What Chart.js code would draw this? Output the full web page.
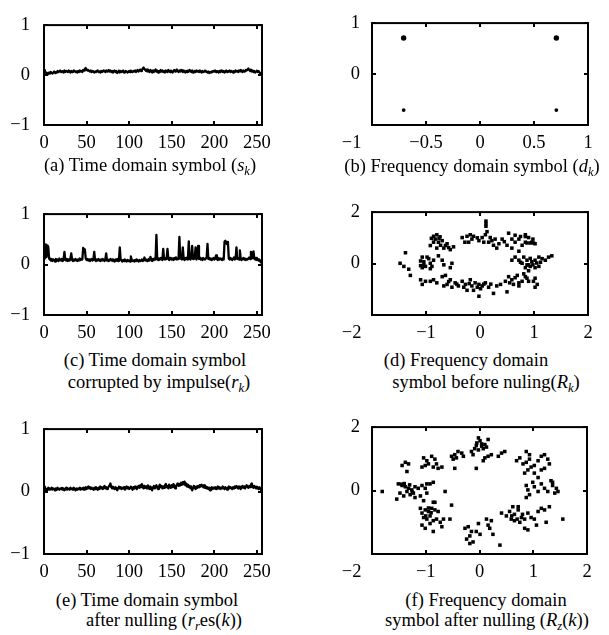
<!DOCTYPE html>
<html>
<head>
<meta charset="utf-8">
<script src="https://cdn.jsdelivr.net/npm/chart.js@4.4.1/dist/chart.umd.min.js"></script>
<style>
  html, body { margin: 0; padding: 0; background: #fff; }
  #wrap { position: relative; width: 609px; height: 635px; overflow: hidden; background: #fff; }
  canvas { position: absolute; }
  .cap { position: absolute; white-space: nowrap; font-family: "Liberation Serif", "Times New Roman", serif;
         font-size: 18.5px; line-height: 24px; color: #000; transform: translateX(-50%); }
  .cap sub { font-size: 0.68em; vertical-align: -0.3em; line-height: 0; }
</style>
</head>
<body>
<div id="wrap">
  <canvas id="ca" width="300" height="155" style="left:0;top:0"></canvas>
  <canvas id="cb" width="309" height="155" style="left:300px;top:0"></canvas>
  <canvas id="cc" width="300" height="156" style="left:0;top:189px"></canvas>
  <canvas id="cd" width="309" height="156" style="left:300px;top:189px"></canvas>
  <canvas id="ce" width="300" height="180" style="left:0;top:404px"></canvas>
  <canvas id="cf" width="309" height="180" style="left:300px;top:404px"></canvas>

  <div class="cap" style="left:150px;top:153px">(a) Time domain symbol (<i>s</i><sub><i>k</i></sub>)</div>
  <div class="cap" style="left:472px;top:154px">(b) Frequency domain symbol (<i>d</i><sub><i>k</i></sub>)</div>
  <div class="cap" style="left:155px;top:348px">(c) Time domain symbol</div>
  <div class="cap" style="left:159px;top:370px">corrupted by impulse(<i>r</i><sub><i>k</i></sub>)</div>
  <div class="cap" style="left:466px;top:348px">(d) Frequency domain</div>
  <div class="cap" style="left:486px;top:370px">symbol before nuling(<i>R</i><sub><i>k</i></sub>)</div>
  <div class="cap" style="left:147px;top:588px">(e) Time domain symbol</div>
  <div class="cap" style="left:164px;top:608px">after nulling (<i>r</i><sub><i>r</i></sub>es(<i>k</i>))</div>
  <div class="cap" style="left:486px;top:588px">(f) Frequency domain</div>
  <div class="cap" style="left:487px;top:608px">symbol after nulling (<i>R</i><sub><i>z</i></sub>(<i>k</i>))</div>
</div>
<script>
// ---------------- DATA ----------------
const xTicksTime = [0, 50, 100, 150, 200, 250];
const yTicksUnit = [-1, 0, 1];
const xTicksB = [-1, -0.5, 0, 0.5, 1];
const xTicksDF = [-2, -1, 0, 1, 2];
const yTicksDF = [-2, 0, 2];

// (a) time domain symbol s_k, k = 0..256
const sK = [
 .10,.08,.05,.03,.04,.02,.05,.03,.06,.04,.03,.05,.07,.04,.06,.05,.08,.06,.07,.09,
 .06,.08,.07,.05,.09,.06,.08,.07,.06,.09,.07,.05,.08,.06,.07,.09,.08,.06,.07,.05,
 .08,.06,.09,.07,.08,.06,.10,.09,.12,.14,.11,.09,.10,.08,.07,.09,.06,.08,.07,.05,
 .07,.06,.08,.09,.06,.07,.05,.08,.06,.07,.09,.08,.06,.09,.07,.08,.10,.07,.09,.06,
 .08,.05,.07,.09,.06,.08,.04,.07,.09,.05,.08,.06,.07,.09,.05,.06,.08,.07,.05,.06,
 .08,.06,.09,.07,.06,.08,.07,.09,.06,.08,.10,.07,.09,.11,.08,.10,.13,.15,.12,.10,
 .08,.11,.07,.09,.06,.10,.08,.05,.09,.06,.08,.11,.07,.09,.05,.08,.06,.10,.07,.09,
 .06,.08,.05,.09,.07,.06,.10,.08,.06,.09,.07,.05,.08,.10,.07,.09,.11,.08,.06,.09,
 .07,.10,.08,.06,.09,.07,.05,.08,.06,.09,.07,.10,.08,.06,.09,.05,.07,.08,.06,.09,
 .07,.08,.06,.09,.07,.05,.08,.06,.07,.09,.08,.06,.05,.07,.04,.06,.05,.07,.06,.08,
 .07,.09,.06,.08,.07,.05,.08,.06,.09,.07,.06,.08,.05,.07,.09,.06,.08,.07,.09,.06,
 .08,.07,.05,.08,.06,.09,.07,.08,.06,.09,.07,.10,.08,.06,.09,.07,.08,.10,.09,.11,
 .13,.10,.08,.11,.07,.09,.06,.08,.05,.07,.09,.06,.08,.05,.04,.03,.04
];

// (c) time domain symbol corrupted by impulse r_k
const rK = [
 .38,.12,.40,.15,.38,.35,.12,.10,.08,.11,.07,.10,.09,.06,.11,.08,.10,.07,.12,.09,
 .08,.11,.07,.10,.25,.09,.08,.11,.07,.10,.08,.12,.22,.09,.07,.10,.08,.11,.09,.07,
 .10,.08,.12,.09,.11,.10,.33,.28,.30,.12,.09,.11,.08,.10,.07,.09,.11,.08,.10,.25,
 .09,.07,.10,.08,.11,.09,.07,.10,.08,.11,.09,.07,.10,.22,.08,.10,.07,.09,.11,.08,
 .10,.07,.09,.06,.10,.08,.11,.07,.09,.34,.10,.08,.06,.09,.07,.10,.08,.06,.09,.07,
 .08,.06,.16,.09,.07,.08,.06,.09,.07,.10,.08,.06,.09,.07,.08,.10,.07,.09,.14,.08,
 .10,.07,.09,.11,.08,.15,.10,.07,.11,.09,.12,.10,.59,.11,.09,.12,.10,.13,.11,.09,
 .31,.12,.10,.13,.11,.31,.12,.09,.13,.11,.10,.12,.09,.13,.11,.14,.10,.12,.11,.55,
 .12,.14,.10,.34,.12,.09,.13,.11,.14,.10,.46,.12,.10,.13,.37,.11,.14,.12,.34,.10,
 .13,.37,.11,.14,.10,.12,.09,.13,.11,.10,.12,.14,.41,.11,.13,.10,.12,.09,.11,.13,
 .10,.12,.18,.11,.09,.13,.10,.12,.11,.09,.12,.10,.45,.47,.44,.40,.45,.12,.10,.13,
 .11,.09,.12,.14,.10,.12,.34,.11,.13,.10,.28,.12,.09,.11,.13,.10,.12,.09,.11,.10,
 .12,.14,.11,.25,.24,.13,.26,.12,.10,.13,.09,.11,.08,.10,.06,.04,.03
];

// (e) time domain symbol after nulling r_res(k)
const rResK = [
 .08,.02,.05,.00,.04,.06,.03,.05,.04,.06,.03,.05,.04,.02,.05,.03,.06,.04,.03,.05,
 .04,.06,.03,.05,.02,.04,.06,.03,.05,.04,.03,.06,.04,.05,.03,.06,.04,.02,.05,.03,
 .05,.04,.06,.03,.05,.04,.06,.03,.05,.07,.04,.06,.08,.05,.07,.04,.06,.05,.03,.06,
 .04,.07,.05,.03,.06,.04,.08,.05,.07,.04,.06,.09,.05,.07,.04,.06,.08,.10,.13,.07,
 .05,.08,.06,.04,.07,.05,.02,.06,.08,.05,.07,.04,.06,.05,.07,.03,.06,.08,.05,.07,
 .04,.06,.08,.05,.03,.07,.05,.08,.06,.04,.07,.09,.06,.10,.07,.12,.08,.05,.09,.06,
 .08,.05,.10,.07,.04,.08,.06,.02,.07,.09,.05,.08,.10,.06,.04,.08,.11,.07,.09,.05,
 .08,.06,.10,.12,.07,.09,.05,.11,.08,.06,.10,.07,.12,.09,.05,.08,.11,.13,.09,.12,
 .10,.14,.11,.15,.12,.16,.10,.13,.08,.11,.07,.09,.05,.08,.02,.06,.09,.07,.04,.08,
 .06,.09,.07,.10,.08,.11,.09,.07,.10,.06,.08,.05,.07,.04,.06,.02,.05,.07,.04,.06,
 .05,.07,.04,.06,.08,.05,.07,.04,.06,.05,.08,.06,.04,.07,.05,.03,.06,.08,.05,.07,
 .06,.04,.07,.05,.08,.06,.09,.07,.05,.08,.06,.04,.07,.09,.06,.08,.05,.07,.10,.08,
 .06,.09,.07,.11,.13,.08,.06,.09,.07,.05,.08,.06,.04,.07,.05,.02,.01
];

// (b) frequency domain symbol d_k (QPSK constellation)
const bTopX = [-0.707, 0.707];
const bTopY = [0.707, 0.707];
const bBotX = [-0.707, 0.707];
const bBotY = [-0.707, -0.707];

// (d) frequency domain symbol before nulling R_k
const dX = [
 0.11,0.11,0.11,-0.86,-0.80,-0.83,-0.77,-0.70,-0.73,-0.67,-0.86,-0.80,-0.61,-0.55,-0.49,-0.33,-0.24,-0.18,-0.15,-0.28,
 -0.21,-0.12,-0.02,0.04,0.10,0.13,0.07,0.16,0.19,0.22,0.25,0.31,0.35,0.41,0.53,0.59,0.65,0.72,0.78,0.84,
 0.90,0.96,1.02,0.50,0.59,0.72,0.84,0.84,0.87,0.93,0.99,
 -0.90,-0.76,-0.64,-0.58,-0.92,-0.74,-0.05,0.28,0.45,0.65,0.75,0.98,
 0.81,0.87,0.90,0.96,1.02,1.09,1.15,1.21,1.27,1.33,0.84,0.90,0.93,1.02,1.09,0.78,0.72,0.59,0.65,0.81,
 0.87,0.90,0.72,1.02,1.06,0.75,0.93,1.05,0.98,1.12,0.87,
 -1.38,-1.48,-1.41,-1.32,-1.29,-1.07,-1.04,-1.01,-1.07,-0.95,-0.92,-0.89,-0.86,-0.77,-0.70,-0.67,-0.55,-0.52,
 -1.10,-1.04,-0.98,-1.10,-0.92,
 -1.10,-1.07,-1.01,-0.92,-0.86,-0.80,-0.70,-0.64,-0.67,-0.61,-0.55,-0.52,-0.46,-0.40,-0.33,-0.27,-0.24,-0.18,-0.15,-0.12,
 -0.09,-0.02,0.01,0.04,-0.02,0.10,0.16,0.25,0.31,0.38,0.47,0.50,0.53,0.59,0.62,0.69,0.72,0.78,0.84,0.99,1.02,
 -0.58,-0.43,-0.30,-0.05,0.07,0.20,-0.20,0.55,0.65
];
const dY = [
 1.65,1.55,1.45,1.06,1.12,0.95,0.83,0.89,0.71,0.60,0.83,0.60,0.77,0.54,0.65,1.01,1.06,1.12,0.95,0.83,
 0.83,1.06,0.89,1.01,1.12,1.24,0.83,0.83,1.01,0.89,0.71,0.60,0.77,0.95,1.18,0.95,0.83,0.95,0.71,1.12,
 1.01,0.83,0.77,0.71,0.60,0.48,0.83,1.05,0.80,0.80,0.80,
 0.98,0.98,0.70,0.62,0.70,1.04,1.00,0.95,0.85,1.10,1.05,0.95,
 0.25,0.13,-0.05,0.07,0.13,0.25,0.19,0.13,0.25,0.30,-0.16,-0.28,-0.11,-0.16,-0.11,0.01,0.13,0.13,0.25,-0.40,
 -0.57,-0.69,-0.75,-0.57,-0.81,0.05,0.20,0.02,-0.05,0.05,-0.05,
 0.42,0.01,-0.11,-0.22,-0.46,0.25,0.07,-0.11,-0.16,0.19,0.01,-0.11,0.13,0.30,0.13,-0.05,-0.16,0.01,
 0.10,-0.05,0.25,-0.08,-0.20,
 -0.63,-0.81,-0.69,-0.69,-0.63,-0.75,-0.51,-0.46,-0.87,-0.81,-0.63,-0.92,-0.75,-0.87,-0.69,-0.81,-1.04,-0.63,-0.87,-1.04,
 -0.75,-0.81,-0.98,-0.87,-1.27,-0.75,-0.92,-1.16,-0.87,-0.81,-0.69,-1.10,-0.51,-0.63,-0.81,-0.46,-0.87,-0.69,-0.51,-0.69,-0.92,
 -0.70,-0.80,-0.92,-0.92,-0.80,-0.80,-0.78,-0.75,-0.55
];

// (f) frequency domain symbol after nulling R_z(k)
const fX = [
 -0.02,0.01,0.04,-0.06,-0.09,-0.02,0.07,0.13,0.16,-0.15,-0.12,0.10,0.16,0.07,0.22,0.35,0.47,0.41,
 0.04,0.10,-0.05,
 -0.52,-0.46,-0.49,-0.40,-0.33,-0.30,-0.43,-0.46,-0.06,
 -1.04,-0.98,-1.01,-0.95,-0.89,-0.83,-0.80,-0.77,-0.86,-0.70,-1.07,-1.44,-1.38,-1.32,-1.35,
 -1.51,-1.44,-1.38,-1.32,-1.26,-1.48,-1.41,-1.35,-1.29,-1.23,-1.20,-1.14,-1.07,-1.01,-0.98,-0.92,-0.86,-1.20,-1.10,-1.04,
 -0.98,-0.86,-1.54,-1.81,-0.64,-1.45,-1.40,-1.30,-1.25,
 -1.10,-1.07,-1.01,-0.95,-0.89,-0.83,-0.77,-1.04,-0.98,-0.92,-0.86,-0.80,-0.73,-0.67,-1.07,-1.01,-0.92,-0.86,-0.70,-0.55,
 -0.52,-0.83,-0.95,-1.00,-0.90,
 -0.27,-0.21,-0.15,-0.18,-0.24,-0.12,-0.06,0.01,0.13,0.16,0.19,0.25,0.22,0.38,-0.18,-0.02,
 0.41,0.50,0.56,0.59,0.65,0.72,0.78,0.65,0.75,0.84,0.90,0.96,1.02,1.09,1.15,1.21,1.30,1.06,0.90,0.84,
 1.24,1.55,0.72,0.62,0.60,0.70,0.80,
 0.87,0.90,0.93,0.99,1.02,1.09,1.15,1.21,1.27,1.33,1.36,1.43,1.46,1.40,1.36,0.87,1.09,
 0.69,0.75,0.81,0.87,0.93,0.96,0.90,0.84,1.02,1.09,1.15,1.21,1.27,1.30,0.87,0.93,1.21,1.15,1.02
];
const fY = [
 1.66,1.57,1.47,1.42,1.32,1.28,1.32,1.37,1.61,1.23,1.13,1.03,1.08,0.94,1.13,1.08,1.23,1.18,
 1.40,1.45,1.50,
 1.08,1.13,0.99,1.23,1.18,1.08,1.03,0.70,0.70,
 1.03,0.94,0.79,0.84,1.08,0.99,0.84,0.70,0.74,0.74,0.74,0.79,0.89,0.84,0.60,
 0.21,0.16,0.12,0.07,0.02,-0.08,-0.17,-0.03,-0.13,-0.08,0.12,0.07,0.16,0.07,0.21,0.21,0.26,-0.22,-0.17,-0.32,
 -0.08,-0.37,-0.27,-0.03,-0.03,0.20,0.22,0.18,-0.05,
 -0.56,-0.71,-0.61,-0.66,-0.56,-0.61,-0.66,-0.85,-0.90,-0.80,-0.95,-0.90,-1.00,-0.90,-1.09,-1.19,-1.04,-1.29,-1.14,-0.90,
 -0.46,-0.37,-0.55,-0.80,-0.70,
 -1.19,-1.14,-1.29,-1.43,-1.53,-1.62,-1.29,-1.38,-0.90,-1.09,-1.19,-1.38,-0.95,-1.72,-1.67,-1.04,
 -0.71,-0.80,-0.66,-0.90,-0.75,-0.61,-0.85,-0.95,-1.00,-0.90,-0.71,-0.85,-0.90,-0.66,-0.56,-0.61,-0.51,-1.09,-1.24,-1.19,
 -1.00,-0.90,-0.51,-0.51,-0.80,-0.90,-0.75,
 0.16,0.02,-0.13,0.26,0.12,-0.03,0.21,0.07,-0.03,0.31,0.16,0.07,-0.03,-0.08,0.26,-0.22,0.41,
 0.94,1.03,0.84,0.89,0.99,0.74,0.65,0.55,0.79,0.94,1.08,1.13,0.99,0.84,1.23,1.13,0.70,0.65,0.55
];

// ---------------- RENDERING ----------------
const FONT = { family: '"Liberation Serif", "Times New Roman", serif', size: 18.5 };

function fmt(v) {
  const s = String(Math.abs(v));
  return v < 0 ? '\u2212' + s : s;
}

const framePlugin = {
  id: 'frame',
  afterDraw(chart) {
    const { ctx, chartArea: a, scales } = chart;
    const xs = scales.x, ys = scales.y;
    ctx.save();
    ctx.strokeStyle = '#000';
    ctx.lineWidth = 2;
    ctx.beginPath();
    const L = 4;
    xs.ticks.forEach(t => {
      const p = Math.round(xs.getPixelForValue(t.value));
      ctx.moveTo(p, a.bottom); ctx.lineTo(p, a.bottom - L);
      ctx.moveTo(p, a.top); ctx.lineTo(p, a.top + L);
    });
    ys.ticks.forEach(t => {
      const p = Math.round(ys.getPixelForValue(t.value));
      ctx.moveTo(a.left, p); ctx.lineTo(a.left + L, p);
      ctx.moveTo(a.right, p); ctx.lineTo(a.right - L, p);
    });
    ctx.stroke();
    ctx.strokeRect(a.left, a.top, a.right - a.left, a.bottom - a.top);
    ctx.restore();
  }
};

function makeChart(id, o) {
  new Chart(document.getElementById(id), {
    type: 'scatter',
    data: { datasets: o.datasets },
    options: {
      responsive: false,
      animation: false,
      devicePixelRatio: 1,
      layout: { padding: { top: 12, right: o.padRight, left: 0, bottom: 0 } },
      plugins: { legend: { display: false }, tooltip: { enabled: false } },
      scales: {
        x: {
          type: 'linear', min: o.xMin, max: o.xMax,
          afterBuildTicks: s => { s.ticks = o.xTicks.map(v => ({ value: v })); },
          afterFit: s => { s.height = 30; },
          grid: { display: false, drawTicks: false },
          border: { display: false },
          ticks: {
            padding: 7, color: '#000', font: FONT, maxRotation: 0, autoSkip: false,
            callback: v => (o.xShift && v === o.xMin) ? fmt(v) + o.xShift : fmt(v)
          }
        },
        y: {
          type: 'linear', min: o.yMin, max: o.yMax,
          afterBuildTicks: s => { s.ticks = o.yTicks.map(v => ({ value: v })); },
          afterFit: s => { s.width = o.yWidth; },
          grid: { display: false, drawTicks: false },
          border: { display: false },
          ticks: {
            padding: o.yPad, color: '#000', font: FONT, autoSkip: false,
            callback: v => (o.yHideMin && v === o.yMin) ? '' : fmt(v)
          }
        }
      }
    },
    plugins: [framePlugin]
  });
}

function lineSet(arr) {
  return [{
    data: arr.map((v, k) => ({ x: k, y: v })),
    showLine: true, borderColor: '#000', borderWidth: 2.3, pointRadius: 0, tension: 0,
    borderJoinStyle: 'round'
  }];
}
function dotSet(xs, ys, r) {
  return {
    data: xs.map((x, i) => ({ x: x, y: ys[i] })),
    showLine: false, backgroundColor: '#000', borderWidth: 0, pointRadius: r, pointStyle: 'rect'
  };
}

const SHIFT = '\u2003\u2003\u2009';

const timeCommon = { xMin: 0, xMax: 256, xTicks: xTicksTime, yMin: -1, yMax: 1, yTicks: yTicksUnit,
                     padRight: 38, yWidth: 44, yPad: 14 };
makeChart('ca', Object.assign({}, timeCommon, { datasets: lineSet(sK) }));
makeChart('cc', Object.assign({}, timeCommon, { datasets: lineSet(rK) }));
makeChart('ce', Object.assign({}, timeCommon, { datasets: lineSet(rResK) }));

makeChart('cb', {
  xMin: -1, xMax: 1, xTicks: xTicksB, yMin: -1, yMax: 1, yTicks: yTicksUnit,
  padRight: 21, yWidth: 72, yPad: 12, yHideMin: true, xShift: SHIFT,
  datasets: [
    { data: bTopX.map((x, i) => ({ x, y: bTopY[i] })), showLine: false, backgroundColor: '#000', borderWidth: 0, pointRadius: 2.7 },
    { data: bBotX.map((x, i) => ({ x, y: bBotY[i] })), showLine: false, backgroundColor: '#000', borderWidth: 0, pointRadius: 1.9 }
  ]
});
makeChart('cd', {
  xMin: -2, xMax: 2, xTicks: xTicksDF, yMin: -2, yMax: 2, yTicks: yTicksDF,
  padRight: 21, yWidth: 72, yPad: 12, yHideMin: true, xShift: SHIFT,
  datasets: [dotSet(dX, dY, 2.5)]
});
makeChart('cf', {
  xMin: -2, xMax: 2, xTicks: xTicksDF, yMin: -2, yMax: 2, yTicks: yTicksDF,
  padRight: 22, yWidth: 72, yPad: 12, yHideMin: true, xShift: SHIFT,
  datasets: [dotSet(fX, fY, 2.5)]
});
</script>
</body>
</html>
